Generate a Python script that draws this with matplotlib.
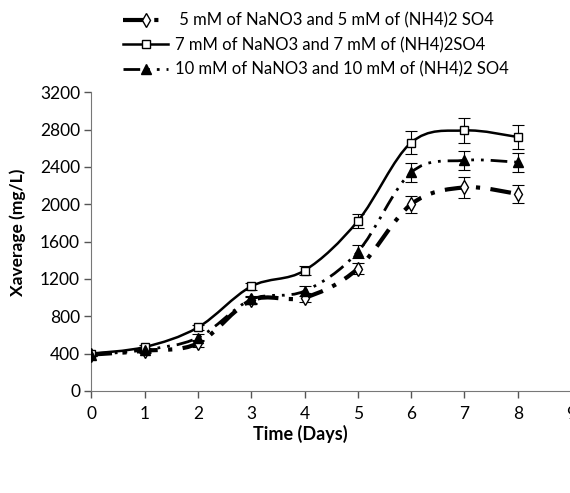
import matplotlib
matplotlib.use("Agg")
import matplotlib.pyplot as plt
import numpy as np
from matplotlib.path import Path
from matplotlib.patches import PathPatch
from matplotlib.lines import Line2D

plt.rcParams['font.family'] = ['Lato', 'DejaVu Sans']

days = [0, 1, 2, 3, 4, 5, 6, 7, 8]
labels = [' 5 mM of NaNO3 and 5 mM of (NH4)2 SO4',
          '7 mM of NaNO3 and 7 mM of (NH4)2SO4',
          '10 mM of NaNO3 and 10 mM of (NH4)2 SO4']
x5 = [390, 430, 510, 970, 1000, 1310, 2000, 2180, 2110]
x7 = [400, 470, 680, 1120, 1290, 1820, 2660, 2790, 2720]
x10 = [390, 440, 570, 980, 1070, 1490, 2340, 2470, 2450]
err5 = [20, 20, 40, 40, 50, 60, 90, 110, 100]
err7 = [20, 20, 30, 40, 50, 70, 120, 130, 130]
err10 = [20, 20, 40, 40, 50, 70, 100, 100, 100]


def smooth_patch(ax, x, y, **kw):
    # excel-like smoothed line: cubic bezier through the points
    p = np.column_stack([x, y]).astype(float)
    verts = [p[0]]
    codes = [Path.MOVETO]
    n = len(p)
    for i in range(n - 1):
        p0 = p[max(i - 1, 0)]
        p1 = p[i]
        p2 = p[i + 1]
        p3 = p[min(i + 2, n - 1)]
        c1 = p1 + (p2 - p0) / 6.0
        c2 = p2 - (p3 - p1) / 6.0
        verts += [c1, c2, p2]
        codes += [Path.CURVE4] * 3
    ax.add_patch(PathPatch(Path(verts, codes), fill=False, **kw))


fig = plt.figure(figsize=(5.7, 4.93), dpi=100)
ax = fig.add_axes([0.16, 0.207, 0.842, 0.606])

styles = [
    dict(ls=(0, (5, 2.5, 1, 2.5)), lw=3.0, marker='d', mfc='white', ms=7),
    dict(ls='-', lw=1.8, marker='s', mfc='white', ms=6),
    dict(ls=(0, (6, 2.5, 1, 2.5, 1, 2.5)), lw=2.0, marker='^', mfc='black', ms=7),
]
series = [(x5, err5), (x7, err7), (x10, err10)]

handles = []
for (vals, err), st in zip(series, styles):
    smooth_patch(ax, days, vals, edgecolor='black', linewidth=st['lw'],
                 linestyle=st['ls'], capstyle='butt', zorder=2)
    ax.errorbar(days, vals, yerr=err, fmt='none', ecolor='black',
                elinewidth=0.8, capsize=4, capthick=0.8, zorder=3)
    ax.plot(days, vals, ls='none', marker=st['marker'], mfc=st['mfc'],
            mec='black', mew=1.0, ms=st['ms'], zorder=4)
    handles.append(Line2D([], [], color='black', lw=st['lw'], ls=st['ls'],
                          marker=st['marker'], mfc=st['mfc'], mec='black',
                          ms=st['ms']))

ax.set_xlim(0, 9)
ax.set_ylim(0, 3200)
ax.set_xticks(range(0, 10))
ax.set_yticks(range(0, 3201, 400))
ax.tick_params(labelsize=12.5, length=5, width=1, color='#555555', pad=3)
ax.tick_params(axis='x', pad=6)
for s in ['top', 'right']:
    ax.spines[s].set_visible(False)
for s in ['left', 'bottom']:
    ax.spines[s].set_color('#777777')
ax.set_xlabel('Time (Days)', fontsize=13, fontweight='bold')
ax.set_ylabel('Xaverage (mg/L)', fontsize=12.5, fontweight='bold')
ax.xaxis.set_label_coords(0.435, -0.115)
ax.yaxis.set_label_coords(-0.135, 0.53)

fig.legend(handles, labels, loc='upper left', bbox_to_anchor=(0.19, 1.005),
           frameon=False, fontsize=12, handlelength=2.7, handletextpad=0.4,
           labelspacing=0.5)

fig.savefig('out.png', dpi=100)
